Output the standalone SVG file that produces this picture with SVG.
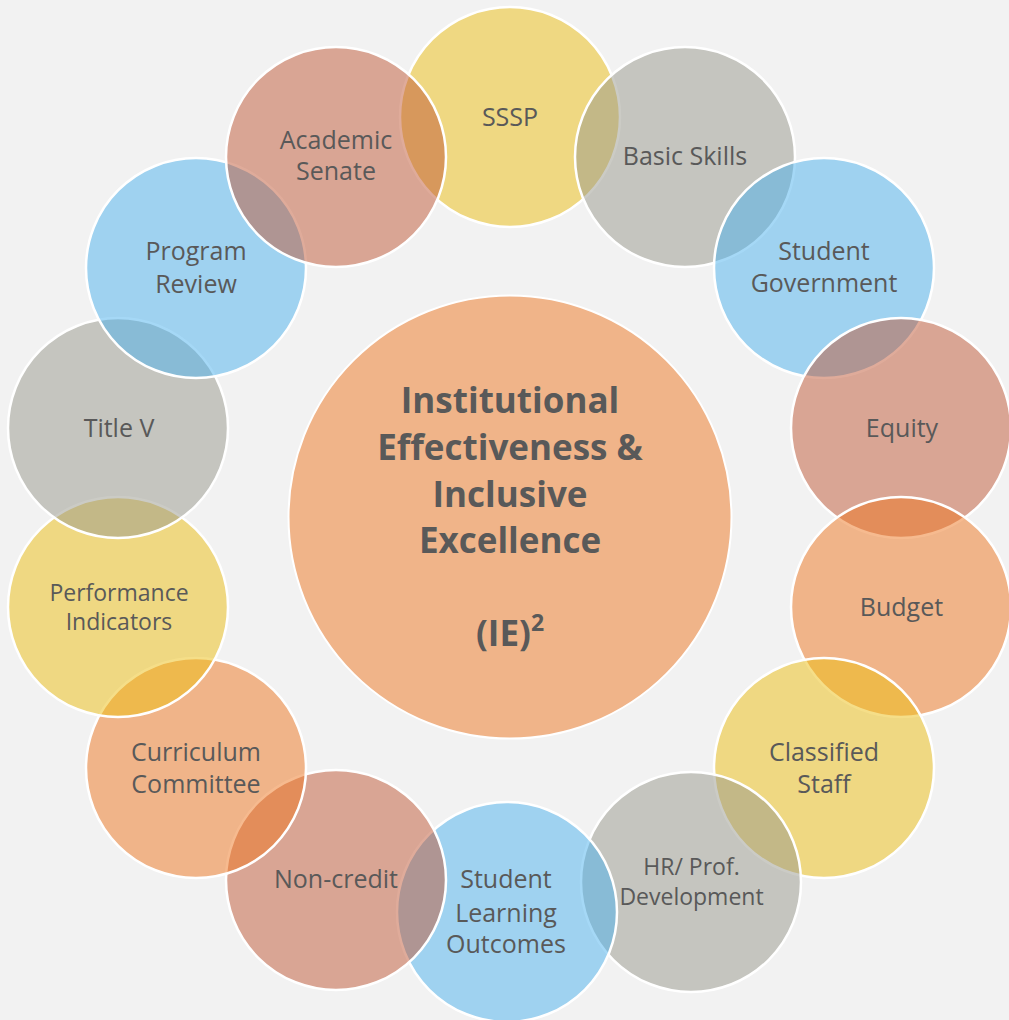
<svg xmlns="http://www.w3.org/2000/svg" width="1009" height="1020" viewBox="0 0 1009 1020">
<style>
.bg{fill:#f2f2f2}
.c{stroke:#ffffff;stroke-width:2.5;fill-opacity:0.5}
.center{stroke:#ffffff;stroke-width:2;fill:#f0b489}
.y{fill:#ecbe12}.g{fill:#98988c}.b{fill:#4cb2ee}.p{fill:#c05836}.o{fill:#ee7620}
.t{font-family:"Open Sans","Noto Sans",sans-serif;font-size:25px;fill:#595959;text-anchor:middle}
.ts{font-size:23px}
.tc{font-family:"Open Sans","Noto Sans",sans-serif;font-size:35px;font-weight:bold;fill:#595959;text-anchor:middle}
</style>
<rect class="bg" x="0" y="0" width="1009" height="1020"/>
<g id="connectors"/>
<g id="node-center">
<circle class="center" cx="510" cy="517" r="221.5"/>
<text class="tc" x="510" y="413">Institutional</text>
<text class="tc" x="510" y="459.5">Effectiveness &amp;</text>
<text class="tc" x="510" y="506.5">Inclusive</text>
<text class="tc" x="510" y="553">Excellence</text>
<text class="tc" x="510" y="646">(IE)<tspan font-size="23" dy="-15">2</tspan></text>
</g>
<g id="node-sssp"><circle class="c y" cx="510" cy="117" r="110"/><text class="t" x="510" y="126">SSSP</text></g>
<g id="node-basic-skills"><circle class="c g" cx="685" cy="157" r="110"/><text class="t" x="685" y="165">Basic Skills</text></g>
<g id="node-student-government"><circle class="c b" cx="824" cy="268" r="110"/><text class="t" x="824" y="260">Student</text><text class="t" x="824" y="291.5">Government</text></g>
<g id="node-equity"><circle class="c p" cx="901" cy="428" r="110"/><text class="t" x="902" y="436.5">Equity</text></g>
<g id="node-budget"><circle class="c o" cx="901" cy="607" r="110"/><text class="t" x="901.5" y="616">Budget</text></g>
<g id="node-classified-staff"><circle class="c y" cx="824" cy="768" r="110"/><text class="t" x="824" y="760.5">Classified</text><text class="t" x="824" y="792.5">Staff</text></g>
<g id="node-hr"><circle class="c g" cx="691" cy="882" r="110"/><text class="t ts" x="691.5" y="875">HR/ Prof.</text><text class="t ts" x="691.5" y="905">Development</text></g>
<g id="node-slo"><circle class="c b" cx="507" cy="912" r="110"/><text class="t" x="506" y="888">Student</text><text class="t" x="506" y="921.5">Learning</text><text class="t" x="506" y="952.5">Outcomes</text></g>
<g id="node-non-credit"><circle class="c p" cx="336" cy="880" r="110"/><text class="t" x="336" y="888">Non-credit</text></g>
<g id="node-curriculum-committee"><circle class="c o" cx="196" cy="768" r="110"/><text class="t" x="196" y="761">Curriculum</text><text class="t" x="196" y="792.5">Committee</text></g>
<g id="node-performance-indicators"><circle class="c y" cx="118" cy="607" r="110"/><text class="t ts" x="119" y="600.5">Performance</text><text class="t ts" x="119" y="630">Indicators</text></g>
<g id="node-title-v"><circle class="c g" cx="118" cy="428" r="110"/><text class="t" x="119" y="436.5">Title V</text></g>
<g id="node-program-review"><circle class="c b" cx="196" cy="268" r="110"/><text class="t" x="196" y="260">Program</text><text class="t" x="196" y="292.5">Review</text></g>
<g id="node-academic-senate"><circle class="c p" cx="336" cy="157" r="110"/><text class="t" x="336" y="148.5">Academic</text><text class="t" x="336" y="180">Senate</text></g>
</svg>
